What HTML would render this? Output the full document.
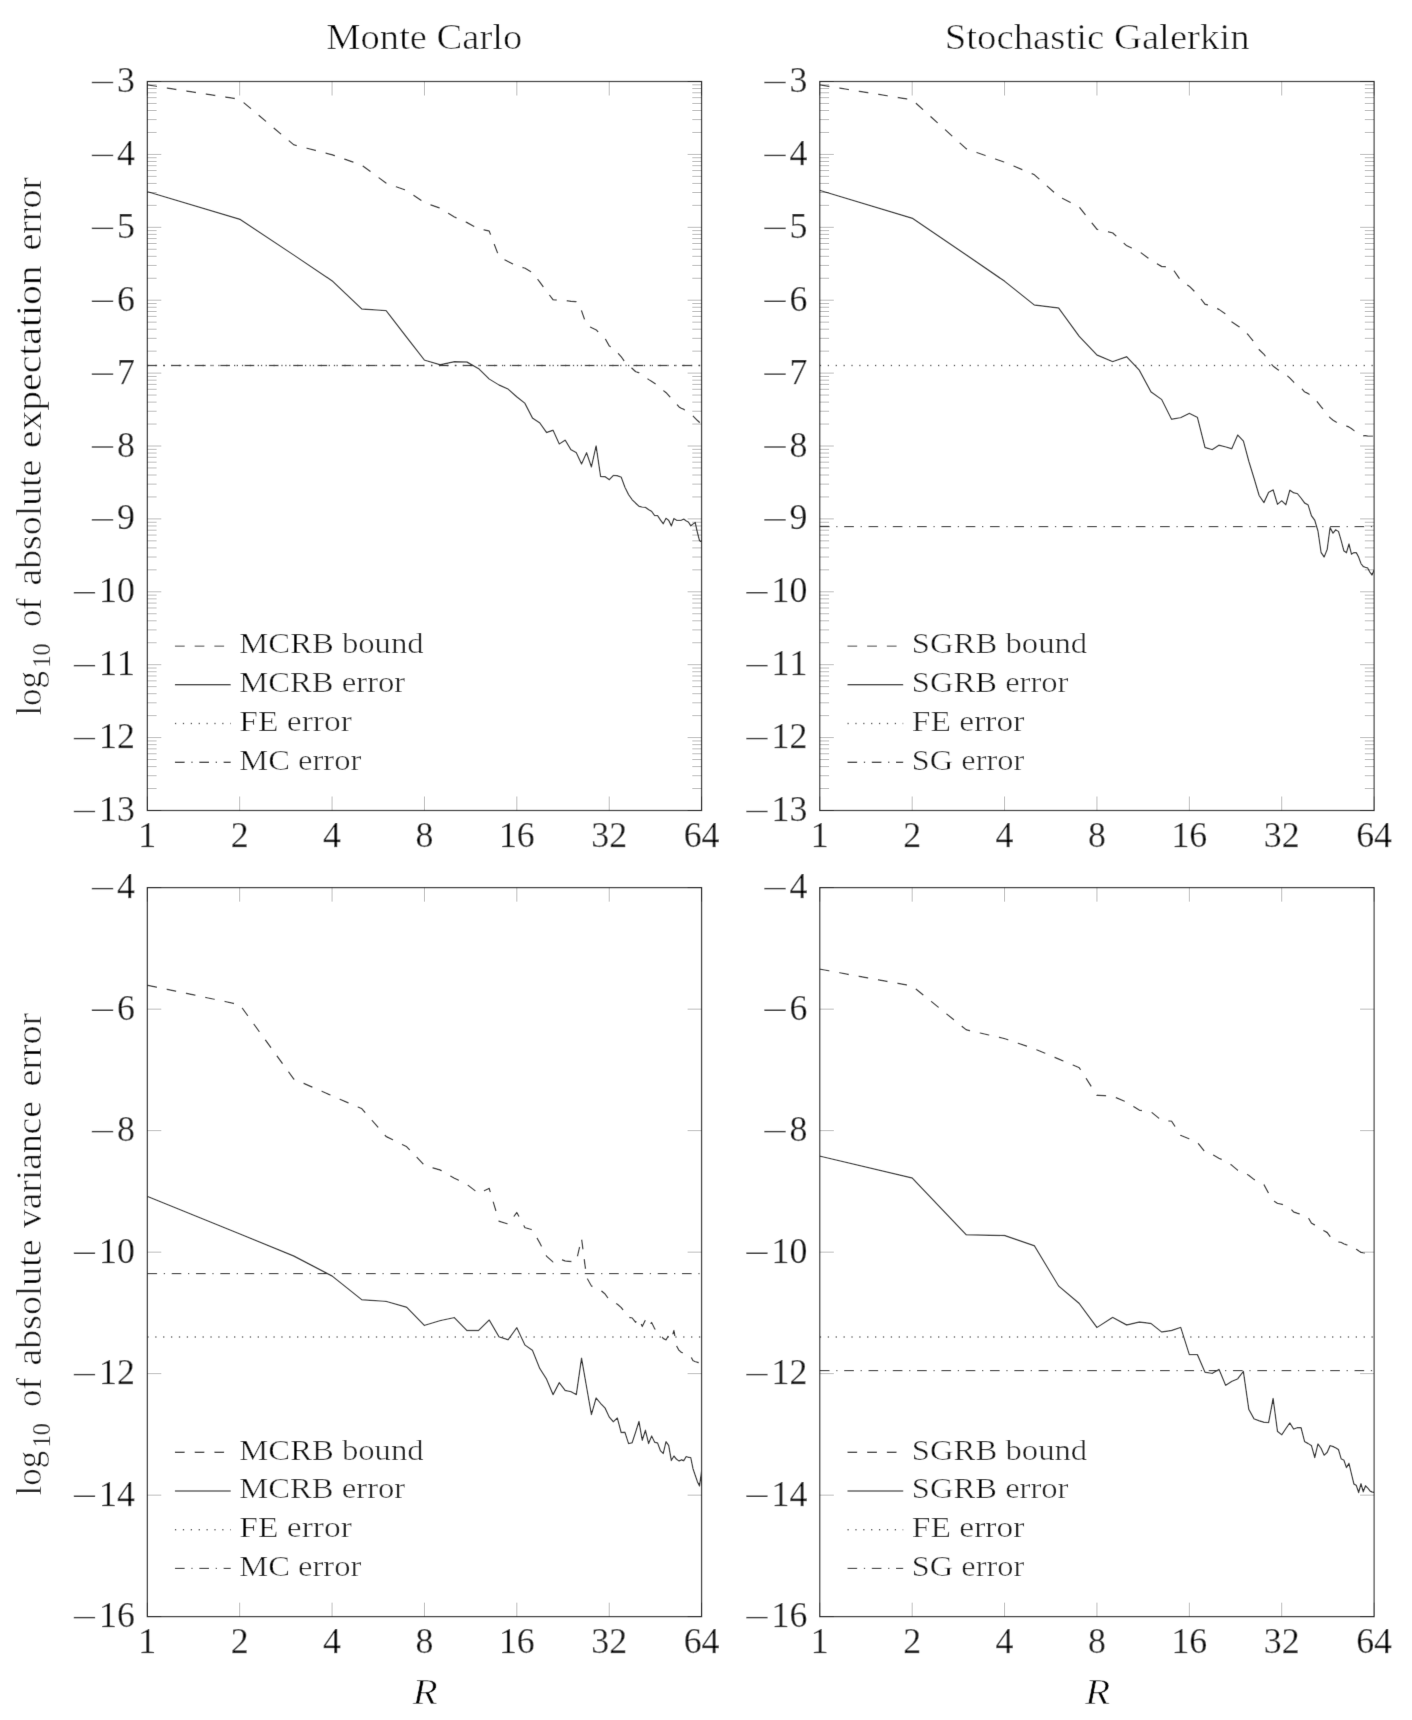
<!DOCTYPE html>
<html lang="en"><head><meta charset="utf-8"><title>Reduced basis error: Monte Carlo vs Stochastic Galerkin</title>
<style>
html,body{margin:0;padding:0;background:#fff}
body{width:1412px;height:1720px;overflow:hidden}
svg{display:block;font-kerning:none;fill:#000;will-change:transform}
.fr{fill:none;stroke:#000;stroke-width:1.45}
.tk path{fill:none;stroke:#a4a4a4;stroke-width:0.68}
.cv polyline,.cv path{fill:none;stroke:#000;stroke-width:1.45;stroke-linejoin:round}
.mn{fill:none;stroke:#000;stroke-width:1.65}
.cv .dsh{stroke-dasharray:9.85 9.85}
.cv .dot{stroke-dasharray:1.4 6.48}
.cv .dd{stroke-dasharray:9.85 6.53 1.4 6.52}
text.main{font-family:"Liberation Serif",serif;font-style:normal;font-size:35.80px;stroke:#000;stroke-width:0.25px;}
text.text{font-family:"Liberation Serif",serif;font-style:normal;font-size:36.00px;stroke:#fff;stroke-width:0.2px;}
text.leg{font-family:"Liberation Serif",serif;font-style:normal;font-size:30.00px;stroke:#fff;stroke-width:0.15px;}
text.sub{font-family:"Liberation Serif",serif;font-style:normal;font-size:25.50px;stroke:#000;stroke-width:0.2px;}
text.it{font-family:"Liberation Serif",serif;font-style:italic;font-size:36.00px;stroke:#fff;stroke-width:0.4px;}
</style></head><body>
<svg width="1412" height="1720" viewBox="0 0 1412 1720">
<rect width="1412" height="1720" fill="#fff"/>
<defs>
<filter id="gm" filterUnits="userSpaceOnUse" x="0" y="0" width="1412" height="1720" color-interpolation-filters="sRGB"><feConvolveMatrix order="3" divisor="1" bias="0" edgeMode="none" preserveAlpha="false" kernelMatrix="0.00524 0.06192 0.00524 0.06192 0.73137 0.06192 0.00524 0.06192 0.00524"/><feComponentTransfer><feFuncA type="table" tableValues="0.0000 0.0071 0.0143 0.0216 0.0289 0.0363 0.0438 0.0513 0.0589 0.0666 0.0743 0.0822 0.0901 0.0981 0.1061 0.1143 0.1226 0.1309 0.1394 0.1479 0.1566 0.1654 0.1742 0.1832 0.1924 0.2016 0.2110 0.2205 0.2301 0.2399 0.2499 0.2600 0.2703 0.2807 0.2914 0.3022 0.3132 0.3245 0.3360 0.3477 0.3597 0.3720 0.3845 0.3974 0.4106 0.4242 0.4382 0.4526 0.4675 0.4829 0.4988 0.5154 0.5328 0.5509 0.5699 0.5900 0.6114 0.6343 0.6590 0.6861 0.7164 0.7512 0.7931 0.8490 1.0000"/></feComponentTransfer></filter>
<clipPath id="c147_81"><rect x="147.3" y="81.5" width="554.3" height="729.0"/></clipPath>
<clipPath id="c147_887"><rect x="147.3" y="887.65" width="554.3" height="729.0"/></clipPath>
<clipPath id="c819_81"><rect x="819.8" y="81.5" width="554.3" height="729.0"/></clipPath>
<clipPath id="c819_887"><rect x="819.8" y="887.65" width="554.3" height="729.0"/></clipPath>
</defs>
<g class="tk"><path d="M147.30 810.50v-14.0M147.30 81.50v14.0M239.68 810.50v-14.0M239.68 81.50v14.0M332.07 810.50v-14.0M332.07 81.50v14.0M424.45 810.50v-14.0M424.45 81.50v14.0M516.83 810.50v-14.0M516.83 81.50v14.0M609.22 810.50v-14.0M609.22 81.50v14.0M701.60 810.50v-14.0M701.60 81.50v14.0M147.30 81.50h14.0M701.60 81.50h-14.0M147.30 154.40h14.0M701.60 154.40h-14.0M147.30 227.30h14.0M701.60 227.30h-14.0M147.30 300.20h14.0M701.60 300.20h-14.0M147.30 373.10h14.0M701.60 373.10h-14.0M147.30 446.00h14.0M701.60 446.00h-14.0M147.30 518.90h14.0M701.60 518.90h-14.0M147.30 591.80h14.0M701.60 591.80h-14.0M147.30 664.70h14.0M701.60 664.70h-14.0M147.30 737.60h14.0M701.60 737.60h-14.0M147.30 810.50h14.0M701.60 810.50h-14.0M147.30 788.55h9.3M701.60 788.55h-9.3M147.30 775.72h9.3M701.60 775.72h-9.3M147.30 766.61h9.3M701.60 766.61h-9.3M147.30 759.55h9.3M701.60 759.55h-9.3M147.30 753.77h9.3M701.60 753.77h-9.3M147.30 748.89h9.3M701.60 748.89h-9.3M147.30 744.66h9.3M701.60 744.66h-9.3M147.30 740.94h9.3M701.60 740.94h-9.3M147.30 715.65h9.3M701.60 715.65h-9.3M147.30 702.82h9.3M701.60 702.82h-9.3M147.30 693.71h9.3M701.60 693.71h-9.3M147.30 686.65h9.3M701.60 686.65h-9.3M147.30 680.87h9.3M701.60 680.87h-9.3M147.30 675.99h9.3M701.60 675.99h-9.3M147.30 671.76h9.3M701.60 671.76h-9.3M147.30 668.04h9.3M701.60 668.04h-9.3M147.30 642.75h9.3M701.60 642.75h-9.3M147.30 629.92h9.3M701.60 629.92h-9.3M147.30 620.81h9.3M701.60 620.81h-9.3M147.30 613.75h9.3M701.60 613.75h-9.3M147.30 607.97h9.3M701.60 607.97h-9.3M147.30 603.09h9.3M701.60 603.09h-9.3M147.30 598.86h9.3M701.60 598.86h-9.3M147.30 595.14h9.3M701.60 595.14h-9.3M147.30 569.85h9.3M701.60 569.85h-9.3M147.30 557.02h9.3M701.60 557.02h-9.3M147.30 547.91h9.3M701.60 547.91h-9.3M147.30 540.85h9.3M701.60 540.85h-9.3M147.30 535.07h9.3M701.60 535.07h-9.3M147.30 530.19h9.3M701.60 530.19h-9.3M147.30 525.96h9.3M701.60 525.96h-9.3M147.30 522.24h9.3M701.60 522.24h-9.3M147.30 496.95h9.3M701.60 496.95h-9.3M147.30 484.12h9.3M701.60 484.12h-9.3M147.30 475.01h9.3M701.60 475.01h-9.3M147.30 467.95h9.3M701.60 467.95h-9.3M147.30 462.17h9.3M701.60 462.17h-9.3M147.30 457.29h9.3M701.60 457.29h-9.3M147.30 453.06h9.3M701.60 453.06h-9.3M147.30 449.34h9.3M701.60 449.34h-9.3M147.30 424.05h9.3M701.60 424.05h-9.3M147.30 411.22h9.3M701.60 411.22h-9.3M147.30 402.11h9.3M701.60 402.11h-9.3M147.30 395.05h9.3M701.60 395.05h-9.3M147.30 389.27h9.3M701.60 389.27h-9.3M147.30 384.39h9.3M701.60 384.39h-9.3M147.30 380.16h9.3M701.60 380.16h-9.3M147.30 376.44h9.3M701.60 376.44h-9.3M147.30 351.15h9.3M701.60 351.15h-9.3M147.30 338.32h9.3M701.60 338.32h-9.3M147.30 329.21h9.3M701.60 329.21h-9.3M147.30 322.15h9.3M701.60 322.15h-9.3M147.30 316.37h9.3M701.60 316.37h-9.3M147.30 311.49h9.3M701.60 311.49h-9.3M147.30 307.26h9.3M701.60 307.26h-9.3M147.30 303.54h9.3M701.60 303.54h-9.3M147.30 278.25h9.3M701.60 278.25h-9.3M147.30 265.42h9.3M701.60 265.42h-9.3M147.30 256.31h9.3M701.60 256.31h-9.3M147.30 249.25h9.3M701.60 249.25h-9.3M147.30 243.47h9.3M701.60 243.47h-9.3M147.30 238.59h9.3M701.60 238.59h-9.3M147.30 234.36h9.3M701.60 234.36h-9.3M147.30 230.64h9.3M701.60 230.64h-9.3M147.30 205.35h9.3M701.60 205.35h-9.3M147.30 192.52h9.3M701.60 192.52h-9.3M147.30 183.41h9.3M701.60 183.41h-9.3M147.30 176.35h9.3M701.60 176.35h-9.3M147.30 170.57h9.3M701.60 170.57h-9.3M147.30 165.69h9.3M701.60 165.69h-9.3M147.30 161.46h9.3M701.60 161.46h-9.3M147.30 157.74h9.3M701.60 157.74h-9.3M147.30 132.45h9.3M701.60 132.45h-9.3M147.30 119.62h9.3M701.60 119.62h-9.3M147.30 110.51h9.3M701.60 110.51h-9.3M147.30 103.45h9.3M701.60 103.45h-9.3M147.30 97.67h9.3M701.60 97.67h-9.3M147.30 92.79h9.3M701.60 92.79h-9.3M147.30 88.56h9.3M701.60 88.56h-9.3M147.30 84.84h9.3M701.60 84.84h-9.3"/>
<path d="M819.80 810.50v-14.0M819.80 81.50v14.0M912.18 810.50v-14.0M912.18 81.50v14.0M1004.57 810.50v-14.0M1004.57 81.50v14.0M1096.95 810.50v-14.0M1096.95 81.50v14.0M1189.33 810.50v-14.0M1189.33 81.50v14.0M1281.72 810.50v-14.0M1281.72 81.50v14.0M1374.10 810.50v-14.0M1374.10 81.50v14.0M819.80 81.50h14.0M1374.10 81.50h-14.0M819.80 154.40h14.0M1374.10 154.40h-14.0M819.80 227.30h14.0M1374.10 227.30h-14.0M819.80 300.20h14.0M1374.10 300.20h-14.0M819.80 373.10h14.0M1374.10 373.10h-14.0M819.80 446.00h14.0M1374.10 446.00h-14.0M819.80 518.90h14.0M1374.10 518.90h-14.0M819.80 591.80h14.0M1374.10 591.80h-14.0M819.80 664.70h14.0M1374.10 664.70h-14.0M819.80 737.60h14.0M1374.10 737.60h-14.0M819.80 810.50h14.0M1374.10 810.50h-14.0M819.80 788.55h9.3M1374.10 788.55h-9.3M819.80 775.72h9.3M1374.10 775.72h-9.3M819.80 766.61h9.3M1374.10 766.61h-9.3M819.80 759.55h9.3M1374.10 759.55h-9.3M819.80 753.77h9.3M1374.10 753.77h-9.3M819.80 748.89h9.3M1374.10 748.89h-9.3M819.80 744.66h9.3M1374.10 744.66h-9.3M819.80 740.94h9.3M1374.10 740.94h-9.3M819.80 715.65h9.3M1374.10 715.65h-9.3M819.80 702.82h9.3M1374.10 702.82h-9.3M819.80 693.71h9.3M1374.10 693.71h-9.3M819.80 686.65h9.3M1374.10 686.65h-9.3M819.80 680.87h9.3M1374.10 680.87h-9.3M819.80 675.99h9.3M1374.10 675.99h-9.3M819.80 671.76h9.3M1374.10 671.76h-9.3M819.80 668.04h9.3M1374.10 668.04h-9.3M819.80 642.75h9.3M1374.10 642.75h-9.3M819.80 629.92h9.3M1374.10 629.92h-9.3M819.80 620.81h9.3M1374.10 620.81h-9.3M819.80 613.75h9.3M1374.10 613.75h-9.3M819.80 607.97h9.3M1374.10 607.97h-9.3M819.80 603.09h9.3M1374.10 603.09h-9.3M819.80 598.86h9.3M1374.10 598.86h-9.3M819.80 595.14h9.3M1374.10 595.14h-9.3M819.80 569.85h9.3M1374.10 569.85h-9.3M819.80 557.02h9.3M1374.10 557.02h-9.3M819.80 547.91h9.3M1374.10 547.91h-9.3M819.80 540.85h9.3M1374.10 540.85h-9.3M819.80 535.07h9.3M1374.10 535.07h-9.3M819.80 530.19h9.3M1374.10 530.19h-9.3M819.80 525.96h9.3M1374.10 525.96h-9.3M819.80 522.24h9.3M1374.10 522.24h-9.3M819.80 496.95h9.3M1374.10 496.95h-9.3M819.80 484.12h9.3M1374.10 484.12h-9.3M819.80 475.01h9.3M1374.10 475.01h-9.3M819.80 467.95h9.3M1374.10 467.95h-9.3M819.80 462.17h9.3M1374.10 462.17h-9.3M819.80 457.29h9.3M1374.10 457.29h-9.3M819.80 453.06h9.3M1374.10 453.06h-9.3M819.80 449.34h9.3M1374.10 449.34h-9.3M819.80 424.05h9.3M1374.10 424.05h-9.3M819.80 411.22h9.3M1374.10 411.22h-9.3M819.80 402.11h9.3M1374.10 402.11h-9.3M819.80 395.05h9.3M1374.10 395.05h-9.3M819.80 389.27h9.3M1374.10 389.27h-9.3M819.80 384.39h9.3M1374.10 384.39h-9.3M819.80 380.16h9.3M1374.10 380.16h-9.3M819.80 376.44h9.3M1374.10 376.44h-9.3M819.80 351.15h9.3M1374.10 351.15h-9.3M819.80 338.32h9.3M1374.10 338.32h-9.3M819.80 329.21h9.3M1374.10 329.21h-9.3M819.80 322.15h9.3M1374.10 322.15h-9.3M819.80 316.37h9.3M1374.10 316.37h-9.3M819.80 311.49h9.3M1374.10 311.49h-9.3M819.80 307.26h9.3M1374.10 307.26h-9.3M819.80 303.54h9.3M1374.10 303.54h-9.3M819.80 278.25h9.3M1374.10 278.25h-9.3M819.80 265.42h9.3M1374.10 265.42h-9.3M819.80 256.31h9.3M1374.10 256.31h-9.3M819.80 249.25h9.3M1374.10 249.25h-9.3M819.80 243.47h9.3M1374.10 243.47h-9.3M819.80 238.59h9.3M1374.10 238.59h-9.3M819.80 234.36h9.3M1374.10 234.36h-9.3M819.80 230.64h9.3M1374.10 230.64h-9.3M819.80 205.35h9.3M1374.10 205.35h-9.3M819.80 192.52h9.3M1374.10 192.52h-9.3M819.80 183.41h9.3M1374.10 183.41h-9.3M819.80 176.35h9.3M1374.10 176.35h-9.3M819.80 170.57h9.3M1374.10 170.57h-9.3M819.80 165.69h9.3M1374.10 165.69h-9.3M819.80 161.46h9.3M1374.10 161.46h-9.3M819.80 157.74h9.3M1374.10 157.74h-9.3M819.80 132.45h9.3M1374.10 132.45h-9.3M819.80 119.62h9.3M1374.10 119.62h-9.3M819.80 110.51h9.3M1374.10 110.51h-9.3M819.80 103.45h9.3M1374.10 103.45h-9.3M819.80 97.67h9.3M1374.10 97.67h-9.3M819.80 92.79h9.3M1374.10 92.79h-9.3M819.80 88.56h9.3M1374.10 88.56h-9.3M819.80 84.84h9.3M1374.10 84.84h-9.3"/>
<path d="M147.30 1616.65v-14.0M147.30 887.65v14.0M239.68 1616.65v-14.0M239.68 887.65v14.0M332.07 1616.65v-14.0M332.07 887.65v14.0M424.45 1616.65v-14.0M424.45 887.65v14.0M516.83 1616.65v-14.0M516.83 887.65v14.0M609.22 1616.65v-14.0M609.22 887.65v14.0M701.60 1616.65v-14.0M701.60 887.65v14.0M147.30 887.65h14.0M701.60 887.65h-14.0M147.30 1009.15h14.0M701.60 1009.15h-14.0M147.30 1130.65h14.0M701.60 1130.65h-14.0M147.30 1252.15h14.0M701.60 1252.15h-14.0M147.30 1373.65h14.0M701.60 1373.65h-14.0M147.30 1495.15h14.0M701.60 1495.15h-14.0M147.30 1616.65h14.0M701.60 1616.65h-14.0"/>
<path d="M819.80 1616.65v-14.0M819.80 887.65v14.0M912.18 1616.65v-14.0M912.18 887.65v14.0M1004.57 1616.65v-14.0M1004.57 887.65v14.0M1096.95 1616.65v-14.0M1096.95 887.65v14.0M1189.33 1616.65v-14.0M1189.33 887.65v14.0M1281.72 1616.65v-14.0M1281.72 887.65v14.0M1374.10 1616.65v-14.0M1374.10 887.65v14.0M819.80 887.65h14.0M1374.10 887.65h-14.0M819.80 1009.15h14.0M1374.10 1009.15h-14.0M819.80 1130.65h14.0M1374.10 1130.65h-14.0M819.80 1252.15h14.0M1374.10 1252.15h-14.0M819.80 1373.65h14.0M1374.10 1373.65h-14.0M819.80 1495.15h14.0M1374.10 1495.15h-14.0M819.80 1616.65h14.0M1374.10 1616.65h-14.0"/></g>
<g filter="url(#gm)">
<g class="cv" clip-path="url(#c147_81)">
<polyline class="dsh" points="147.30,84.90 239.68,99.20 293.72,144.80 332.07,154.70 361.81,165.20 386.11,183.10 406.65,190.50 424.45,202.70 440.15,208.10 454.19,216.90 466.89,222.50 478.49,228.80 489.16,231.00 499.04,256.70 508.23,261.60 516.83,266.10 524.91,268.10 532.53,272.60 539.74,282.00 546.57,291.30 553.08,299.70 559.28,300.20 565.20,300.50 570.87,301.20 576.31,301.70 581.54,310.80 586.57,325.30 591.42,327.60 596.10,329.80 600.61,334.60 604.99,338.30 609.22,345.90 613.32,348.20 617.30,352.50 621.16,356.70 624.91,362.00 628.57,365.20 632.12,368.40 635.58,371.60 638.96,372.70 642.25,375.40 645.46,377.40 648.60,379.50 651.66,381.40 654.66,383.30 657.59,385.60 660.45,388.10 663.26,390.50 666.01,392.60 668.70,395.40 671.34,398.40 673.93,401.20 676.46,403.90 678.96,406.80 681.40,408.40 683.80,409.30 686.16,410.90 688.48,412.50 690.76,414.10 693.00,416.00 695.20,418.20 697.37,420.40 699.50,422.40 701.60,424.70"/>
<polyline points="147.30,191.60 239.68,219.20 293.72,255.00 332.07,280.80 361.81,309.00 386.11,310.60 406.65,337.30 424.45,360.10 440.15,364.80 454.19,361.80 466.89,362.00 478.49,368.60 489.16,379.00 499.04,385.00 508.23,389.20 516.83,396.90 524.91,403.30 532.53,418.20 539.74,422.90 546.57,432.50 553.08,430.30 559.28,444.00 565.20,440.20 570.87,449.60 576.31,452.70 581.54,464.00 586.57,452.70 591.42,466.90 596.10,445.90 600.61,476.50 604.99,476.70 609.22,479.70 613.32,475.40 617.30,475.70 621.16,477.10 624.91,487.30 628.57,494.60 632.12,499.70 635.58,503.10 638.96,506.20 642.25,507.10 645.46,507.40 648.60,509.70 651.66,511.40 654.66,515.60 657.59,515.60 660.45,520.00 663.26,523.80 666.01,518.30 668.70,520.40 671.34,525.90 673.93,518.50 676.46,520.20 678.96,520.40 681.40,520.20 683.80,519.10 686.16,520.80 688.48,522.10 690.76,525.90 693.00,524.00 695.20,522.50 697.37,532.30 699.50,540.60 701.60,541.90"/>
<path class="dot" d="M147.30 365.45H701.60"/>
<path class="dd" d="M147.30 365.45H701.60"/>
</g>
<g class="cv">
<path class="dsh" d="M174.90 646.10H230.80"/>
<path class="" d="M174.90 684.80H230.80"/>
<path class="dot" d="M174.90 723.50H230.80"/>
<path class="dd" d="M174.90 762.20H230.80"/>
</g>
<rect class="fr" x="147.30" y="81.50" width="554.30" height="729.00"/>
<path class="mn" d="M91.70 82.50H113.30"/>
<path class="mn" d="M91.70 155.40H113.30"/>
<path class="mn" d="M91.70 228.30H113.30"/>
<path class="mn" d="M91.70 301.20H113.30"/>
<path class="mn" d="M91.70 374.10H113.30"/>
<path class="mn" d="M91.70 447.00H113.30"/>
<path class="mn" d="M91.70 519.90H113.30"/>
<path class="mn" d="M73.70 592.80H95.20"/>
<path class="mn" d="M73.70 665.70H95.20"/>
<path class="mn" d="M73.70 738.60H95.20"/>
<path class="mn" d="M73.70 811.50H95.20"/>
<g class="cv" clip-path="url(#c819_81)">
<polyline class="dsh" points="819.80,84.90 912.18,99.80 966.22,148.80 1004.57,162.20 1034.31,174.70 1058.61,196.40 1079.15,207.00 1096.95,229.30 1112.65,232.90 1126.69,245.70 1139.39,251.60 1150.99,260.30 1161.66,266.50 1171.54,267.20 1180.73,280.50 1189.33,286.30 1197.41,294.30 1205.03,304.20 1212.24,306.00 1219.07,309.50 1225.58,313.90 1231.78,321.90 1237.70,325.80 1243.37,329.40 1248.81,335.60 1254.04,342.10 1259.07,349.60 1263.92,354.20 1268.60,360.80 1273.11,366.10 1277.49,369.40 1281.72,372.20 1285.82,374.40 1289.80,378.00 1293.66,382.10 1297.41,385.00 1301.07,387.90 1304.62,391.90 1308.08,393.50 1311.46,396.00 1314.75,398.80 1317.96,402.70 1321.10,406.70 1324.16,410.30 1327.16,413.50 1330.09,417.80 1332.95,420.10 1335.76,421.80 1338.51,422.90 1341.20,424.00 1343.84,425.10 1346.43,426.00 1348.96,427.00 1351.46,428.60 1353.90,430.50 1356.30,432.20 1358.66,433.90 1360.98,435.30 1363.26,435.70 1365.50,435.80 1367.70,436.00 1369.87,436.10 1372.00,436.10 1374.10,436.10"/>
<polyline points="819.80,190.40 912.18,218.20 966.22,254.90 1004.57,281.20 1034.31,305.00 1058.61,308.00 1079.15,336.30 1096.95,355.00 1112.65,361.60 1126.69,356.80 1139.39,370.30 1150.99,391.80 1161.66,399.50 1171.54,419.30 1180.73,417.60 1189.33,413.30 1197.41,417.40 1205.03,447.50 1212.24,449.60 1219.07,445.20 1225.58,446.90 1231.78,448.70 1237.70,435.00 1243.37,440.90 1248.81,461.30 1254.04,478.30 1259.07,495.30 1263.92,502.60 1268.60,492.40 1273.11,489.80 1277.49,504.30 1281.72,500.70 1285.82,504.70 1289.80,490.20 1293.66,492.80 1297.41,493.60 1301.07,498.10 1304.62,503.00 1308.08,504.90 1311.46,515.70 1314.75,520.20 1317.96,531.00 1321.10,552.50 1324.16,557.00 1327.16,549.60 1330.09,527.50 1332.95,533.20 1335.76,529.80 1338.51,531.50 1341.20,540.60 1343.84,550.80 1346.43,552.70 1348.96,544.00 1351.46,554.20 1353.90,552.70 1356.30,552.70 1358.66,557.20 1360.98,563.60 1363.26,566.50 1365.50,567.40 1367.70,568.00 1369.87,572.10 1372.00,575.00 1374.10,570.00"/>
<path class="dot" d="M819.80 365.40H1374.10"/>
<path class="dd" d="M819.80 526.60H1374.10"/>
</g>
<g class="cv">
<path class="dsh" d="M847.40 646.10H903.30"/>
<path class="" d="M847.40 684.80H903.30"/>
<path class="dot" d="M847.40 723.50H903.30"/>
<path class="dd" d="M847.40 762.20H903.30"/>
</g>
<rect class="fr" x="819.80" y="81.50" width="554.30" height="729.00"/>
<path class="mn" d="M764.20 82.50H785.80"/>
<path class="mn" d="M764.20 155.40H785.80"/>
<path class="mn" d="M764.20 228.30H785.80"/>
<path class="mn" d="M764.20 301.20H785.80"/>
<path class="mn" d="M764.20 374.10H785.80"/>
<path class="mn" d="M764.20 447.00H785.80"/>
<path class="mn" d="M764.20 519.90H785.80"/>
<path class="mn" d="M746.20 592.80H767.70"/>
<path class="mn" d="M746.20 665.70H767.70"/>
<path class="mn" d="M746.20 738.60H767.70"/>
<path class="mn" d="M746.20 811.50H767.70"/>
<g class="cv" clip-path="url(#c147_887)">
<polyline class="dsh" points="147.30,985.20 239.68,1004.60 293.72,1079.00 332.07,1095.80 361.81,1108.70 386.11,1136.50 406.65,1146.70 424.45,1165.30 440.15,1170.00 454.19,1178.10 466.89,1184.40 478.49,1193.40 489.16,1188.30 499.04,1221.30 508.23,1224.10 516.83,1212.50 524.91,1227.60 532.53,1229.80 539.74,1242.90 546.57,1256.20 553.08,1262.00 559.28,1258.70 565.20,1261.00 570.87,1261.50 576.31,1261.40 581.54,1238.40 586.57,1277.30 591.42,1286.00 596.10,1288.00 600.61,1290.30 604.99,1293.90 609.22,1299.90 613.32,1302.50 617.30,1304.10 621.16,1307.50 624.91,1312.40 628.57,1317.50 632.12,1317.90 635.58,1322.30 638.96,1318.40 642.25,1326.50 645.46,1319.90 648.60,1325.90 651.66,1322.50 654.66,1328.80 657.59,1331.60 660.45,1334.20 663.26,1338.50 666.01,1339.90 668.70,1335.40 671.34,1339.00 673.93,1330.50 676.46,1345.80 678.96,1350.30 681.40,1352.40 683.80,1353.20 686.16,1353.80 688.48,1354.50 690.76,1356.50 693.00,1360.70 695.20,1361.60 697.37,1362.20 699.50,1363.00 701.60,1363.90"/>
<polyline points="147.30,1196.40 239.68,1233.80 293.72,1256.00 332.07,1276.00 361.81,1299.80 386.11,1301.40 406.65,1307.30 424.45,1325.40 440.15,1320.60 454.19,1317.60 466.89,1330.40 478.49,1330.40 489.16,1319.90 499.04,1336.90 508.23,1339.70 516.83,1327.70 524.91,1345.00 532.53,1350.40 539.74,1368.40 546.57,1379.20 553.08,1394.60 559.28,1382.60 565.20,1390.50 570.87,1391.60 576.31,1394.60 581.54,1358.20 586.57,1387.00 591.42,1414.60 596.10,1398.00 600.61,1403.40 604.99,1407.90 609.22,1417.00 613.32,1421.80 617.30,1417.90 621.16,1432.50 624.91,1432.30 628.57,1443.60 632.12,1442.80 635.58,1432.30 638.96,1421.50 642.25,1440.20 645.46,1430.30 648.60,1443.60 651.66,1436.00 654.66,1442.20 657.59,1443.00 660.45,1450.70 663.26,1453.40 666.01,1441.70 668.70,1445.50 671.34,1460.50 673.93,1456.00 676.46,1459.20 678.96,1461.00 681.40,1459.80 683.80,1460.70 686.16,1456.60 688.48,1457.20 690.76,1457.60 693.00,1468.70 695.20,1475.30 697.37,1481.60 699.50,1486.00 701.60,1471.40"/>
<path class="dot" d="M147.30 1337.00H701.60"/>
<path class="dd" d="M147.30 1273.60H701.60"/>
</g>
<g class="cv">
<path class="dsh" d="M174.90 1452.25H230.80"/>
<path class="" d="M174.90 1490.95H230.80"/>
<path class="dot" d="M174.90 1529.65H230.80"/>
<path class="dd" d="M174.90 1568.35H230.80"/>
</g>
<rect class="fr" x="147.30" y="887.65" width="554.30" height="729.00"/>
<path class="mn" d="M91.70 888.65H113.30"/>
<path class="mn" d="M91.70 1010.15H113.30"/>
<path class="mn" d="M91.70 1131.65H113.30"/>
<path class="mn" d="M73.70 1253.15H95.20"/>
<path class="mn" d="M73.70 1374.65H95.20"/>
<path class="mn" d="M73.70 1496.15H95.20"/>
<path class="mn" d="M73.70 1617.65H95.20"/>
<g class="cv" clip-path="url(#c819_887)">
<polyline class="dsh" points="819.80,969.10 912.18,986.00 966.22,1029.80 1004.57,1038.60 1034.31,1048.70 1058.61,1059.00 1079.15,1067.60 1096.95,1095.30 1112.65,1096.20 1126.69,1102.10 1139.39,1110.20 1150.99,1111.80 1161.66,1120.50 1171.54,1121.10 1180.73,1135.40 1189.33,1138.80 1197.41,1142.50 1205.03,1152.00 1212.24,1154.40 1219.07,1158.30 1225.58,1161.20 1231.78,1165.20 1237.70,1170.20 1243.37,1171.90 1248.81,1175.40 1254.04,1179.50 1259.07,1181.60 1263.92,1184.60 1268.60,1193.20 1273.11,1200.50 1277.49,1203.40 1281.72,1204.20 1285.82,1205.40 1289.80,1207.60 1293.66,1212.00 1297.41,1213.30 1301.07,1214.40 1304.62,1215.70 1308.08,1217.30 1311.46,1223.10 1314.75,1225.00 1317.96,1227.10 1321.10,1229.10 1324.16,1230.80 1327.16,1232.50 1330.09,1236.50 1332.95,1239.90 1335.76,1241.60 1338.51,1242.00 1341.20,1242.40 1343.84,1243.90 1346.43,1244.80 1348.96,1245.60 1351.46,1246.20 1353.90,1246.70 1356.30,1249.20 1358.66,1250.90 1360.98,1252.40 1363.26,1252.90 1365.50,1253.20 1367.70,1253.40 1369.87,1253.50 1372.00,1253.50 1374.10,1253.50"/>
<polyline points="819.80,1156.10 912.18,1178.00 966.22,1234.70 1004.57,1235.50 1034.31,1245.70 1058.61,1286.00 1079.15,1303.40 1096.95,1327.50 1112.65,1317.40 1126.69,1325.00 1139.39,1322.00 1150.99,1323.50 1161.66,1332.00 1171.54,1330.50 1180.73,1327.40 1189.33,1354.60 1197.41,1354.60 1205.03,1372.30 1212.24,1373.40 1219.07,1369.40 1225.58,1385.30 1231.78,1381.30 1237.70,1378.80 1243.37,1371.40 1248.81,1409.40 1254.04,1418.90 1259.07,1420.70 1263.92,1422.20 1268.60,1422.60 1273.11,1398.50 1277.49,1431.40 1281.72,1434.80 1285.82,1428.60 1289.80,1422.90 1293.66,1429.10 1297.41,1427.60 1301.07,1427.80 1304.62,1441.60 1308.08,1443.50 1311.46,1445.60 1314.75,1457.50 1317.96,1443.90 1321.10,1448.40 1324.16,1455.20 1327.16,1452.40 1330.09,1445.60 1332.95,1446.50 1335.76,1447.80 1338.51,1449.70 1341.20,1458.90 1343.84,1460.10 1346.43,1467.60 1348.96,1463.30 1351.46,1473.80 1353.90,1484.00 1356.30,1485.40 1358.66,1492.50 1360.98,1483.80 1363.26,1491.80 1365.50,1485.70 1367.70,1487.90 1369.87,1490.80 1372.00,1492.00 1374.10,1492.30"/>
<path class="dot" d="M819.80 1337.00H1374.10"/>
<path class="dd" d="M819.80 1370.60H1374.10"/>
</g>
<g class="cv">
<path class="dsh" d="M847.40 1452.25H903.30"/>
<path class="" d="M847.40 1490.95H903.30"/>
<path class="dot" d="M847.40 1529.65H903.30"/>
<path class="dd" d="M847.40 1568.35H903.30"/>
</g>
<rect class="fr" x="819.80" y="887.65" width="554.30" height="729.00"/>
<path class="mn" d="M764.20 888.65H785.80"/>
<path class="mn" d="M764.20 1010.15H785.80"/>
<path class="mn" d="M764.20 1131.65H785.80"/>
<path class="mn" d="M746.20 1253.15H767.70"/>
<path class="mn" d="M746.20 1374.65H767.70"/>
<path class="mn" d="M746.20 1496.15H767.70"/>
<path class="mn" d="M746.20 1617.65H767.70"/>
<text class="leg" transform="translate(239.30,653.40) scale(1.0898,1)">MCRB bound</text>
<text class="leg" transform="translate(239.30,692.10) scale(1.0886,1)">MCRB error</text>
<text class="leg" transform="translate(239.30,730.80) scale(1.1171,1)">FE error</text>
<text class="leg" transform="translate(239.30,769.50) scale(1.0847,1)">MC error</text>
<text class="main" x="147.30" y="846.60" text-anchor="middle">1</text>
<text class="main" x="239.68" y="846.60" text-anchor="middle">2</text>
<text class="main" x="332.07" y="846.60" text-anchor="middle">4</text>
<text class="main" x="424.45" y="846.60" text-anchor="middle">8</text>
<text class="main" x="516.83" y="846.60" text-anchor="middle">16</text>
<text class="main" x="609.22" y="846.60" text-anchor="middle">32</text>
<text class="main" x="701.60" y="846.60" text-anchor="middle">64</text>
<text class="main" x="134.80" y="92.00" text-anchor="end">3</text>
<text class="main" x="134.80" y="164.90" text-anchor="end">4</text>
<text class="main" x="134.80" y="237.80" text-anchor="end">5</text>
<text class="main" x="134.80" y="310.70" text-anchor="end">6</text>
<text class="main" x="134.80" y="383.60" text-anchor="end">7</text>
<text class="main" x="134.80" y="456.50" text-anchor="end">8</text>
<text class="main" x="134.80" y="529.40" text-anchor="end">9</text>
<text class="main" x="134.80" y="602.30" text-anchor="end">10</text>
<text class="main" x="134.80" y="675.20" text-anchor="end">11</text>
<text class="main" x="134.80" y="748.10" text-anchor="end">12</text>
<text class="main" x="134.80" y="821.00" text-anchor="end">13</text>
<text class="leg" transform="translate(911.80,653.40) scale(1.0910,1)">SGRB bound</text>
<text class="leg" transform="translate(911.80,692.10) scale(1.0871,1)">SGRB error</text>
<text class="leg" transform="translate(911.80,730.80) scale(1.1171,1)">FE error</text>
<text class="leg" transform="translate(911.80,769.50) scale(1.0794,1)">SG error</text>
<text class="main" x="819.80" y="846.60" text-anchor="middle">1</text>
<text class="main" x="912.18" y="846.60" text-anchor="middle">2</text>
<text class="main" x="1004.57" y="846.60" text-anchor="middle">4</text>
<text class="main" x="1096.95" y="846.60" text-anchor="middle">8</text>
<text class="main" x="1189.33" y="846.60" text-anchor="middle">16</text>
<text class="main" x="1281.72" y="846.60" text-anchor="middle">32</text>
<text class="main" x="1374.10" y="846.60" text-anchor="middle">64</text>
<text class="main" x="807.30" y="92.00" text-anchor="end">3</text>
<text class="main" x="807.30" y="164.90" text-anchor="end">4</text>
<text class="main" x="807.30" y="237.80" text-anchor="end">5</text>
<text class="main" x="807.30" y="310.70" text-anchor="end">6</text>
<text class="main" x="807.30" y="383.60" text-anchor="end">7</text>
<text class="main" x="807.30" y="456.50" text-anchor="end">8</text>
<text class="main" x="807.30" y="529.40" text-anchor="end">9</text>
<text class="main" x="807.30" y="602.30" text-anchor="end">10</text>
<text class="main" x="807.30" y="675.20" text-anchor="end">11</text>
<text class="main" x="807.30" y="748.10" text-anchor="end">12</text>
<text class="main" x="807.30" y="821.00" text-anchor="end">13</text>
<text class="leg" transform="translate(239.30,1459.55) scale(1.0898,1)">MCRB bound</text>
<text class="leg" transform="translate(239.30,1498.25) scale(1.0886,1)">MCRB error</text>
<text class="leg" transform="translate(239.30,1536.95) scale(1.1171,1)">FE error</text>
<text class="leg" transform="translate(239.30,1575.65) scale(1.0847,1)">MC error</text>
<text class="main" x="147.30" y="1652.75" text-anchor="middle">1</text>
<text class="main" x="239.68" y="1652.75" text-anchor="middle">2</text>
<text class="main" x="332.07" y="1652.75" text-anchor="middle">4</text>
<text class="main" x="424.45" y="1652.75" text-anchor="middle">8</text>
<text class="main" x="516.83" y="1652.75" text-anchor="middle">16</text>
<text class="main" x="609.22" y="1652.75" text-anchor="middle">32</text>
<text class="main" x="701.60" y="1652.75" text-anchor="middle">64</text>
<text class="main" x="134.80" y="898.15" text-anchor="end">4</text>
<text class="main" x="134.80" y="1019.65" text-anchor="end">6</text>
<text class="main" x="134.80" y="1141.15" text-anchor="end">8</text>
<text class="main" x="134.80" y="1262.65" text-anchor="end">10</text>
<text class="main" x="134.80" y="1384.15" text-anchor="end">12</text>
<text class="main" x="134.80" y="1505.65" text-anchor="end">14</text>
<text class="main" x="134.80" y="1627.15" text-anchor="end">16</text>
<text class="leg" transform="translate(911.80,1459.55) scale(1.0910,1)">SGRB bound</text>
<text class="leg" transform="translate(911.80,1498.25) scale(1.0871,1)">SGRB error</text>
<text class="leg" transform="translate(911.80,1536.95) scale(1.1171,1)">FE error</text>
<text class="leg" transform="translate(911.80,1575.65) scale(1.0794,1)">SG error</text>
<text class="main" x="819.80" y="1652.75" text-anchor="middle">1</text>
<text class="main" x="912.18" y="1652.75" text-anchor="middle">2</text>
<text class="main" x="1004.57" y="1652.75" text-anchor="middle">4</text>
<text class="main" x="1096.95" y="1652.75" text-anchor="middle">8</text>
<text class="main" x="1189.33" y="1652.75" text-anchor="middle">16</text>
<text class="main" x="1281.72" y="1652.75" text-anchor="middle">32</text>
<text class="main" x="1374.10" y="1652.75" text-anchor="middle">64</text>
<text class="main" x="807.30" y="898.15" text-anchor="end">4</text>
<text class="main" x="807.30" y="1019.65" text-anchor="end">6</text>
<text class="main" x="807.30" y="1141.15" text-anchor="end">8</text>
<text class="main" x="807.30" y="1262.65" text-anchor="end">10</text>
<text class="main" x="807.30" y="1384.15" text-anchor="end">12</text>
<text class="main" x="807.30" y="1505.65" text-anchor="end">14</text>
<text class="main" x="807.30" y="1627.15" text-anchor="end">16</text>
<text class="text" transform="translate(326.30,49.30) scale(1.0711,1)">Monte Carlo</text>
<text class="text" transform="translate(944.70,49.10) scale(1.0780,1)">Stochastic Galerkin</text>
<text class="it" transform="translate(412.45,1703.50) scale(1.1480,1)">R</text>
<text class="it" transform="translate(1084.95,1703.50) scale(1.1480,1)">R</text>
<text class="text" transform="translate(41.10,715.60) rotate(-90) scale(0.9694,1)">log</text>
<text class="sub" transform="translate(49.60,667.50) rotate(-90) scale(0.9451,1)">10</text>
<text class="text" transform="translate(41.10,627.10) rotate(-90) scale(0.9659,1)">of</text>
<text class="text" transform="translate(41.10,585.60) rotate(-90) scale(1.0509,1)">absolute</text>
<text class="text" transform="translate(41.10,448.20) rotate(-90) scale(1.1029,1)">expectation</text>
<text class="text" transform="translate(41.10,250.60) rotate(-90) scale(1.0522,1)">error</text>
<text class="text" transform="translate(41.10,1495.40) rotate(-90) scale(0.9694,1)">log</text>
<text class="sub" transform="translate(49.60,1447.30) rotate(-90) scale(0.9451,1)">10</text>
<text class="text" transform="translate(41.10,1407.00) rotate(-90) scale(0.9659,1)">of</text>
<text class="text" transform="translate(41.10,1365.50) rotate(-90) scale(1.0509,1)">absolute</text>
<text class="text" transform="translate(41.10,1228.00) rotate(-90) scale(1.0411,1)">variance</text>
<text class="text" transform="translate(41.10,1086.50) rotate(-90) scale(1.0522,1)">error</text>
</g>
</svg></body></html>
